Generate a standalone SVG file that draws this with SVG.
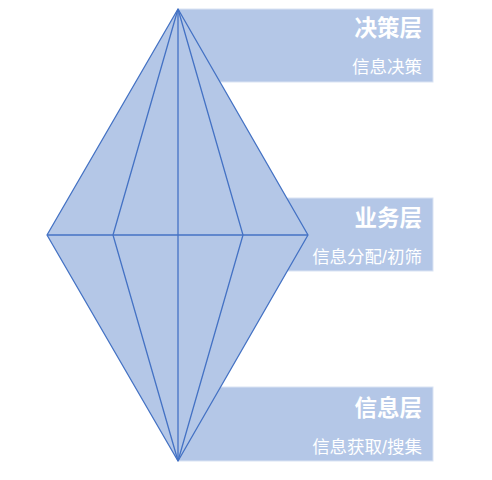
<svg xmlns="http://www.w3.org/2000/svg" width="492" height="480" viewBox="0 0 492 480">
<style>
.band{fill:#b4c7e7;stroke:#dae3f3;stroke-width:1}
.title{font-family:"Liberation Sans","Noto Sans CJK SC",sans-serif;font-weight:bold;font-size:22.5px;fill:#ffffff;text-anchor:end}
.sub{font-family:"Liberation Sans","Noto Sans CJK SC",sans-serif;font-size:17.5px;fill:#ffffff;text-anchor:end}
.dia{fill:#b4c7e7;stroke:#4472c4;stroke-width:1.3;stroke-linejoin:round}
.ln{fill:none;stroke:#4472c4;stroke-width:1.3}
</style>
<rect width="492" height="480" fill="#ffffff"/>
<g id="layer-decision">
<rect class="band" x="178" y="9" width="255" height="73"/>
<text class="title" x="422" y="36">决策层</text>
<text class="sub" x="422" y="73">信息决策</text>
</g>
<g id="layer-business">
<rect class="band" x="178" y="198" width="255" height="73"/>
<text class="title" x="422" y="226">业务层</text>
<text class="sub" x="422" y="263">信息分配/初筛</text>
</g>
<g id="layer-info">
<rect class="band" x="178" y="387" width="255" height="74"/>
<text class="title" x="422" y="416">信息层</text>
<text class="sub" x="422" y="453">信息获取/搜集</text>
</g>
<g id="diamond">
<polygon class="dia" points="178,9 308,235 178,461 47,235"/>
</g>
<g id="connectors">
<path class="ln" d="M178,9 L113,235 L178,461"/>
<path class="ln" d="M178,9 L243,235 L178,461"/>
<path class="ln" d="M178,9 L178,461"/>
<path class="ln" d="M47,235 L308,235"/>
</g>
</svg>
